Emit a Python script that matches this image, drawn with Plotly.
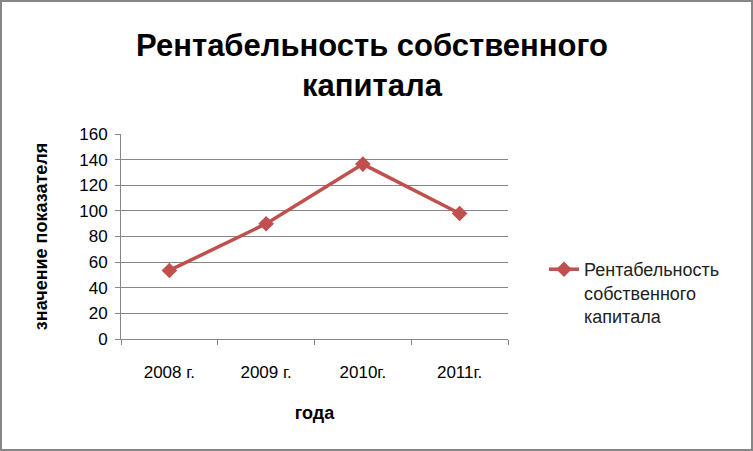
import plotly.graph_objects as go

years = ["2008 г.", "2009 г.", "2010г.", "2011г."]
values = [53.5, 90, 136.5, 98]
series_name = "Рентабельность<br>собственного<br>капитала"
y_ticks = [0, 20, 40, 60, 80, 100, 120, 140, 160]

W, H = 753, 451
L, R, T, B = 121, 245, 134, 112
pw, ph = W - L - R, H - T - B

fig = go.Figure()
fig.add_trace(go.Scatter(
    x=years, y=values, mode="lines+markers", name=series_name,
    line=dict(color="#C0504D", width=3.5),
    marker=dict(symbol="diamond", size=12, color="#C0504D"),
))

font = "Liberation Sans, Arial"
fig.update_layout(
    width=W, height=H,
    margin=dict(l=L, r=R, t=T, b=B),
    paper_bgcolor="white", plot_bgcolor="white",
    title=dict(text="<b>Рентабельность собственного<br>капитала</b>",
               x=372 / W, xanchor="center", y=1 - 56 / H, yanchor="middle",
               font=dict(family=font, size=31, color="black")),
    font=dict(family=font, size=17, color="black"),
    showlegend=True,
    legend=dict(x=(544 - L) / pw, y=1 - (251 - T) / ph, xanchor="left", yanchor="top",
                valign="top", tracegroupgap=0,
                font=dict(family=font, size=18, color="#222"), bgcolor="rgba(0,0,0,0)"),
    xaxis=dict(type="category", showgrid=False, showline=True, linecolor="#868686", linewidth=1,
               ticks="outside", tickson="boundaries", ticklen=5, tickcolor="#868686",
               ticklabelstandoff=18,
               tickfont=dict(family=font, size=17), range=[-0.5, 3.5],
               title=dict(text="<b>года</b>", font=dict(family=font, size=18), standoff=24)),
    yaxis=dict(range=[0, 160], tickvals=y_ticks, showgrid=True, gridcolor="#868686", gridwidth=1,
               showline=True, linecolor="#868686", linewidth=1, ticks="outside", ticklen=5,
               ticklabelstandoff=4,
               tickcolor="#868686", tickfont=dict(family=font, size=17), zeroline=False,
               title=dict(text="<b>значение показателя</b>", font=dict(family=font, size=18), standoff=26)),
)
fig.add_shape(type="rect", xref="paper", yref="paper",
              x0=(1 - L) / pw, x1=(W - 1 - L) / pw,
              y0=1 - (H - 1 - T) / ph, y1=1 - (1 - T) / ph,
              line=dict(color="#868686", width=2), layer="below")
fig.write_html("out.html", config={"displayModeBar": False},
               post_script="document.body.style.margin='0';")
